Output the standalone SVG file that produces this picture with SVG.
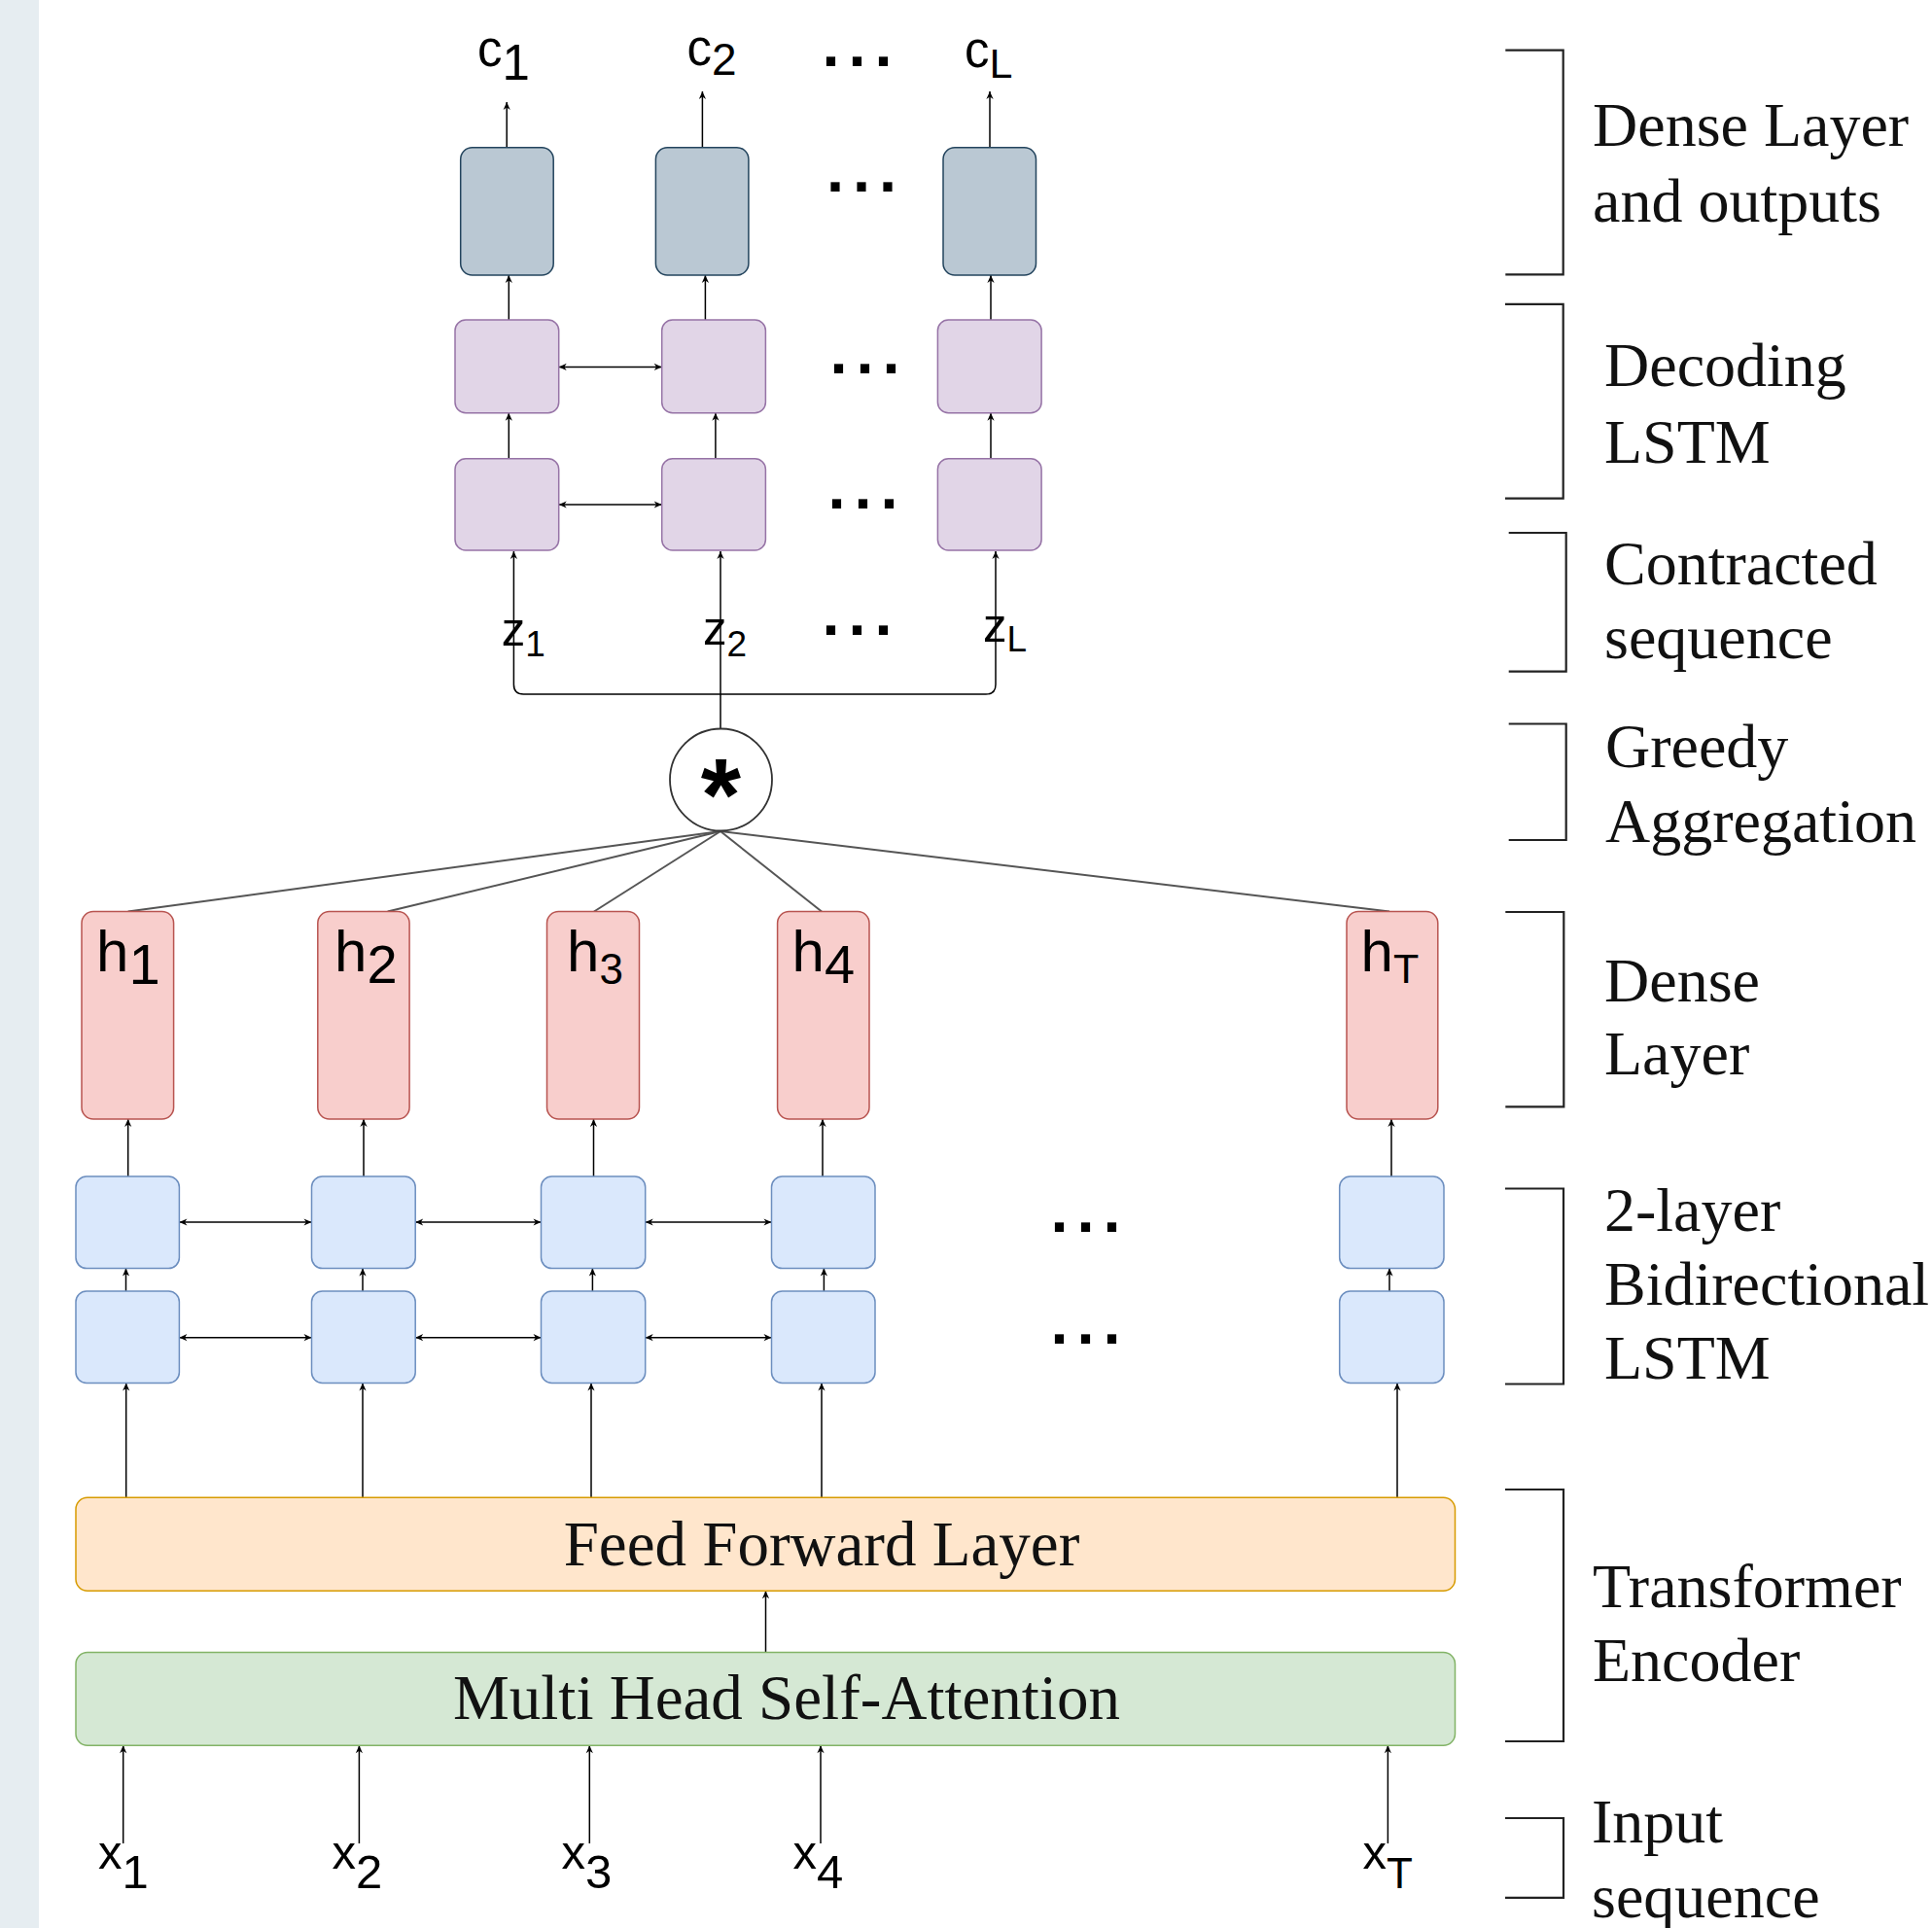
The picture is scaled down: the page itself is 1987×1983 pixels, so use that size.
<svg xmlns="http://www.w3.org/2000/svg" width="1987" height="1983" viewBox="0 0 1987 1983">
<defs>
<style>
.sans{font-family:"Liberation Sans",Arial,Helvetica,sans-serif;fill:#000}
.serif{font-family:"Liberation Serif","Times New Roman",serif;fill:#111;font-size:64px}
.dots{font-family:"Liberation Sans",Arial,sans-serif;font-weight:bold;font-size:65px;letter-spacing:9px;fill:#000}
.grey{fill:#bac8d3;stroke:#23445d;stroke-width:1.5}
.purple{fill:#e1d5e7;stroke:#9673a6;stroke-width:1.5}
.red{fill:#f8cecc;stroke:#b85450;stroke-width:1.5}
.blue{fill:#dae8fc;stroke:#6c8ebf;stroke-width:1.5}
.orange{fill:#ffe6cc;stroke:#d79b00;stroke-width:1.5}
.green{fill:#d5e8d4;stroke:#82b366;stroke-width:1.5}
.arr{stroke:#000;stroke-width:1.5;fill:none;marker-end:url(#ah)}
.dbl{stroke:#000;stroke-width:1.5;fill:none;marker-end:url(#ah);marker-start:url(#ah)}
.agg{stroke:#555;stroke-width:2;fill:none}
.brk{stroke:#222;stroke-width:2.2;fill:none}
</style>
<marker id="ah" viewBox="0 0 10 10" refX="10" refY="5" markerWidth="9" markerHeight="8" markerUnits="userSpaceOnUse" orient="auto-start-reverse">
<path d="M0,0.5 L10,5 L0,9.5 L3,5 z" fill="#000"/>
</marker>
</defs>
<rect x="0" y="0" width="1987" height="1983" fill="#ffffff"/>
<rect x="0" y="0" width="40" height="1983" fill="#e6edf1"/>

<g id="connectors">
<line class="arr" x1="521.2" y1="151.7" x2="521.2" y2="105"/>
<line class="arr" x1="722.4" y1="151.7" x2="722.4" y2="94"/>
<line class="arr" x1="1018" y1="151.7" x2="1018" y2="94"/>
<line class="arr" x1="523.3" y1="329" x2="523.3" y2="283"/>
<line class="arr" x1="725.4" y1="329" x2="725.4" y2="283"/>
<line class="arr" x1="1019" y1="329" x2="1019" y2="283"/>
<line class="arr" x1="523.3" y1="471.7" x2="523.3" y2="424.7"/>
<line class="arr" x1="735.9" y1="471.7" x2="735.9" y2="424.7"/>
<line class="arr" x1="1019" y1="471.7" x2="1019" y2="424.7"/>
<line class="dbl" x1="574.7" y1="377.4" x2="680.7" y2="377.4"/>
<line class="dbl" x1="574.7" y1="519" x2="680.7" y2="519"/>
<path class="arr" d="M741,714 H538.4 Q528.4,714 528.4,704 V567"/>
<path class="arr" d="M741,714 H1014 Q1024,714 1024,704 V567"/>
<path class="arr" d="M741,749.3 V567"/>
<line class="agg" x1="741" y1="855" x2="131.7" y2="937.5"/>
<line class="agg" x1="741" y1="855" x2="398.7" y2="937.5"/>
<line class="agg" x1="741" y1="855" x2="611" y2="937.5"/>
<line class="agg" x1="741" y1="855" x2="845" y2="937.5"/>
<line class="agg" x1="741" y1="855" x2="1429" y2="937.5"/>
<line class="arr" x1="131.7" y1="1210" x2="131.7" y2="1151"/>
<line class="arr" x1="374" y1="1210" x2="374" y2="1151"/>
<line class="arr" x1="610.5" y1="1210" x2="610.5" y2="1151"/>
<line class="arr" x1="846" y1="1210" x2="846" y2="1151"/>
<line class="arr" x1="1431" y1="1210" x2="1431" y2="1151"/>
<line class="arr" x1="129.5" y1="1328" x2="129.5" y2="1304.6"/>
<line class="arr" x1="373" y1="1328" x2="373" y2="1304.6"/>
<line class="arr" x1="609.4" y1="1328" x2="609.4" y2="1304.6"/>
<line class="arr" x1="847.4" y1="1328" x2="847.4" y2="1304.6"/>
<line class="arr" x1="1429" y1="1328" x2="1429" y2="1304.6"/>
<line class="dbl" x1="184.4" y1="1257" x2="320.5" y2="1257"/>
<line class="dbl" x1="427.2" y1="1257" x2="556.5" y2="1257"/>
<line class="dbl" x1="663.7" y1="1257" x2="793.5" y2="1257"/>
<line class="dbl" x1="184.4" y1="1375.7" x2="320.5" y2="1375.7"/>
<line class="dbl" x1="427.2" y1="1375.7" x2="556.5" y2="1375.7"/>
<line class="dbl" x1="663.7" y1="1375.7" x2="793.5" y2="1375.7"/>
<line class="arr" x1="129.7" y1="1540.3" x2="129.7" y2="1422.5"/>
<line class="arr" x1="373" y1="1540.3" x2="373" y2="1422.5"/>
<line class="arr" x1="608" y1="1540.3" x2="608" y2="1422.5"/>
<line class="arr" x1="845" y1="1540.3" x2="845" y2="1422.5"/>
<line class="arr" x1="1437" y1="1540.3" x2="1437" y2="1422.5"/>
<line class="arr" x1="787.5" y1="1699.4" x2="787.5" y2="1636.2"/>
<line class="arr" x1="126.7" y1="1896" x2="126.7" y2="1795.2"/>
<line class="arr" x1="369.4" y1="1896" x2="369.4" y2="1795.2"/>
<line class="arr" x1="606.3" y1="1896" x2="606.3" y2="1795.2"/>
<line class="arr" x1="844" y1="1896" x2="844" y2="1795.2"/>
<line class="arr" x1="1427.4" y1="1896" x2="1427.4" y2="1795.2"/>
</g>

<g id="outputs">
<text class="sans" x="491" y="68.3" font-size="51">c<tspan font-size="51" dy="13.4">1</tspan></text>
<text class="sans" x="706.5" y="66.6" font-size="51">c<tspan font-size="46" dy="10">2</tspan></text>
<text class="sans" x="992" y="69" font-size="51">c<tspan font-size="43" dy="10.5">L</tspan></text>
<text class="dots" x="845.5" y="67.5">...</text>
</g>

<g id="dense-out-1"><rect class="grey" x="473.7" y="151.7" width="95.5" height="131.3" rx="12"/></g>
<g id="dense-out-2"><rect class="grey" x="674.4" y="151.7" width="95.5" height="131.3" rx="12"/></g>
<g id="dense-out-L"><rect class="grey" x="970" y="151.7" width="95.5" height="131.3" rx="12"/></g>
<text class="dots" x="850" y="197">...</text>

<g id="dec-upper-1"><rect class="purple" x="468" y="329" width="106.7" height="95.7" rx="11"/></g>
<g id="dec-upper-2"><rect class="purple" x="680.7" y="329" width="106.7" height="95.7" rx="11"/></g>
<g id="dec-upper-L"><rect class="purple" x="964.4" y="329" width="106.7" height="95.7" rx="11"/></g>
<text class="dots" x="853.5" y="383.5">...</text>

<g id="dec-lower-1"><rect class="purple" x="468" y="471.7" width="106.7" height="94.3" rx="11"/></g>
<g id="dec-lower-2"><rect class="purple" x="680.7" y="471.7" width="106.7" height="94.3" rx="11"/></g>
<g id="dec-lower-L"><rect class="purple" x="964.4" y="471.7" width="106.7" height="94.3" rx="11"/></g>
<text class="dots" x="851.5" y="522.5">...</text>

<g id="contracted">
<text class="sans" x="515.7" y="664.3" font-size="49">z<tspan font-size="37" dy="10.7">1</tspan></text>
<text class="sans" x="723" y="663" font-size="49">z<tspan font-size="37" dy="12">2</tspan></text>
<text class="sans" x="1011" y="660" font-size="49">z<tspan font-size="37" dy="10">L</tspan></text>
<text class="dots" x="845.5" y="652.5">...</text>
</g>

<g id="aggregation">
<circle cx="741.5" cy="802" r="52.5" fill="#ffffff" stroke="#333" stroke-width="1.8"/>
<text class="sans" x="741.5" y="854" font-size="106" font-weight="bold" text-anchor="middle">*</text>
</g>

<g id="h1"><rect class="red" x="84" y="937.5" width="94.6" height="213.5" rx="12"/><text class="sans" x="99" y="999" font-size="60">h<tspan font-size="58" dy="12.7">1</tspan></text></g>
<g id="h2"><rect class="red" x="326.8" y="937.5" width="94.3" height="213.5" rx="12"/><text class="sans" x="344" y="999" font-size="60">h<tspan font-size="56" dy="12.4">2</tspan></text></g>
<g id="h3"><rect class="red" x="562.5" y="937.5" width="95" height="213.5" rx="12"/><text class="sans" x="583" y="999" font-size="60">h<tspan font-size="44" dy="13">3</tspan></text></g>
<g id="h4"><rect class="red" x="799.6" y="937.5" width="94.4" height="213.5" rx="12"/><text class="sans" x="814.6" y="999" font-size="60">h<tspan font-size="56" dy="12">4</tspan></text></g>
<g id="hT"><rect class="red" x="1385" y="937.5" width="93.8" height="213.5" rx="12"/><text class="sans" x="1399.5" y="999" font-size="60">h<tspan font-size="43" dy="12">T</tspan></text></g>

<g id="bl-upper-1"><rect class="blue" x="78" y="1210" width="106.4" height="94.6" rx="11"/></g>
<g id="bl-upper-2"><rect class="blue" x="320.5" y="1210" width="106.7" height="94.6" rx="11"/></g>
<g id="bl-upper-3"><rect class="blue" x="556.5" y="1210" width="107.2" height="94.6" rx="11"/></g>
<g id="bl-upper-4"><rect class="blue" x="793.5" y="1210" width="106.5" height="94.6" rx="11"/></g>
<g id="bl-upper-T"><rect class="blue" x="1377.7" y="1210" width="107.3" height="94.6" rx="11"/></g>
<text class="dots" x="1080.5" y="1267">...</text>

<g id="bl-lower-1"><rect class="blue" x="78" y="1328" width="106.4" height="94.5" rx="11"/></g>
<g id="bl-lower-2"><rect class="blue" x="320.5" y="1328" width="106.7" height="94.5" rx="11"/></g>
<g id="bl-lower-3"><rect class="blue" x="556.5" y="1328" width="107.2" height="94.5" rx="11"/></g>
<g id="bl-lower-4"><rect class="blue" x="793.5" y="1328" width="106.5" height="94.5" rx="11"/></g>
<g id="bl-lower-T"><rect class="blue" x="1377.7" y="1328" width="107.3" height="94.5" rx="11"/></g>
<text class="dots" x="1080.5" y="1382">...</text>

<g id="feed-forward">
<rect class="orange" x="78" y="1540.3" width="1418.5" height="95.9" rx="12"/>
<text class="serif" x="845" y="1610" text-anchor="middle" style="font-size:65px">Feed Forward Layer</text>
</g>
<g id="mhsa">
<rect class="green" x="78" y="1699.4" width="1418.5" height="95.8" rx="12"/>
<text class="serif" x="809" y="1768" text-anchor="middle" style="font-size:65px">Multi Head Self-Attention</text>
</g>

<g id="inputs">
<text class="sans" x="101" y="1921.7" font-size="49">x<tspan dy="20">1</tspan></text>
<text class="sans" x="341.5" y="1921.7" font-size="49">x<tspan dy="20">2</tspan></text>
<text class="sans" x="577.5" y="1921.7" font-size="49">x<tspan dy="20">3</tspan></text>
<text class="sans" x="815.5" y="1921.7" font-size="49">x<tspan dy="20">4</tspan></text>
<text class="sans" x="1401.5" y="1921.7" font-size="49">x<tspan font-size="44" dy="20">T</tspan></text>
</g>

<g id="legend">
<path class="brk" d="M1548.3,51.7 H1607.7 V282.4 H1548.3"/>
<text class="serif" x="1638" y="150">Dense Layer</text>
<text class="serif" x="1638" y="228">and outputs</text>

<path class="brk" d="M1548,312.9 H1607.7 V512.6 H1548"/>
<text class="serif" x="1650" y="397">Decoding</text>
<text class="serif" x="1650" y="476">LSTM</text>

<path class="brk" d="M1551.7,548 H1610.7 V690.6 H1551.7"/>
<text class="serif" x="1650" y="601">Contracted</text>
<text class="serif" x="1650" y="677">sequence</text>

<path class="brk" d="M1551.7,744.5 H1610.7 V864 H1551.7"/>
<text class="serif" x="1651" y="789">Greedy</text>
<text class="serif" x="1651" y="866">Aggregation</text>

<path class="brk" d="M1548.3,938 H1608.3 V1138.3 H1548.3"/>
<text class="serif" x="1650" y="1030">Dense</text>
<text class="serif" x="1650" y="1105">Layer</text>

<path class="brk" d="M1548,1222.5 H1608 V1423.5 H1548"/>
<text class="serif" x="1650" y="1266">2-layer</text>
<text class="serif" x="1650" y="1342">Bidirectional</text>
<text class="serif" x="1650" y="1418">LSTM</text>

<path class="brk" d="M1548,1532 H1608 V1791 H1548"/>
<text class="serif" x="1638" y="1653">Transformer</text>
<text class="serif" x="1638" y="1729">Encoder</text>

<path class="brk" d="M1548,1870 H1608 V1951.8 H1548"/>
<text class="serif" x="1637" y="1895">Input</text>
<text class="serif" x="1637" y="1972">sequence</text>
</g>
</svg>
